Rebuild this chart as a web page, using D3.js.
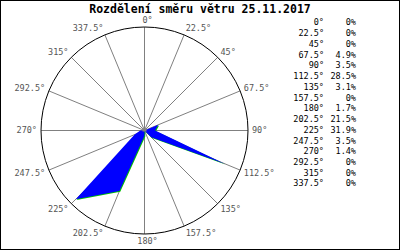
<!DOCTYPE html>
<html>
<head>
<meta charset="utf-8">
<script src="https://cdn.jsdelivr.net/npm/d3@7/dist/d3.min.js"></script>
<style>
  body { margin: 0; background: #fff; }
  svg { display: block; }
</style>
</head>
<body>
<svg id="chart"></svg>
<script>
// wind direction (degrees) and share of time (%)
const directions = [0, 22.5, 45, 67.5, 90, 112.5, 135, 157.5, 180, 202.5, 225, 247.5, 270, 292.5, 315, 337.5];
const shares = [0, 0, 0, 4.9, 3.5, 28.5, 3.1, 0, 1.7, 21.5, 31.9, 3.5, 1.4, 0, 0, 0];
const title = "Rozdělení směru větru 25.11.2017";

const w = 400;
const h = 250;
const cx = 144.5;
const cy = 130.5;
const R = 103.5;
const mono = "'DejaVu Sans Mono', 'Liberation Mono', monospace";

const svg = d3.select("#chart").attr("width", w).attr("height", h);

svg.append("rect")
  .attr("x", 0.5).attr("y", 0.5)
  .attr("width", w - 1).attr("height", h - 1)
  .attr("fill", "#fff").attr("stroke", "#000");

svg.append("text")
  .attr("x", 200).attr("y", 13)
  .attr("text-anchor", "middle")
  .attr("font-family", mono)
  .attr("font-size", 11.5)
  .attr("font-weight", "bold")
  .text(title);

// radial scale: percent -> pixels
const rScale = d3.scaleLinear().domain([0, 34]).range([0, R]);
const rad = (d) => (d * Math.PI) / 180;

const g = svg.append("g").attr("transform", `translate(${cx},${cy})`);

// spokes
g.selectAll("line.spoke")
  .data(directions)
  .enter()
  .append("line")
  .attr("class", "spoke")
  .attr("x1", 0).attr("y1", 0)
  .attr("x2", (d) => R * Math.sin(rad(d)))
  .attr("y2", (d) => -R * Math.cos(rad(d)))
  .attr("stroke", "#808080")
  .attr("stroke-width", 1);

g.append("circle")
  .attr("r", R)
  .attr("fill", "none")
  .attr("stroke", "#000")
  .attr("stroke-width", 1);

// direction labels
g.selectAll("text.dir")
  .data(directions)
  .enter()
  .append("text")
  .attr("class", "dir")
  .attr("x", (d) => {
    const s = Math.sin(rad(d));
    if (Math.abs(s) < 0.1) return 3;
    return (R + 1) * s + 3 * s;
  })
  .attr("y", (d) => -(R + 1) * Math.cos(rad(d)) - 6 * Math.cos(rad(d)))
  .attr("dy", "0.35em")
  .attr("text-anchor", (d) => {
    const s = Math.sin(rad(d));
    return Math.abs(s) < 0.1 ? "middle" : s > 0 ? "start" : "end";
  })
  .attr("font-family", mono)
  .attr("font-size", 8.5)
  .attr("fill", "#555")
  .text((d) => d + "°");

// wind rose polygon
const pts = directions.map((d, i) => [
  rScale(shares[i]) * Math.sin(rad(d)),
  -rScale(shares[i]) * Math.cos(rad(d)),
]);
const line = d3.line().curve(d3.curveLinearClosed);

g.append("path")
  .attr("d", line(pts))
  .attr("transform", "translate(0.8,0.8)")
  .attr("fill", "#00c000");

g.append("path")
  .attr("d", line(pts))
  .attr("fill", "#0000ff");

g.append("rect")
  .attr("x", -2).attr("y", -2)
  .attr("width", 4).attr("height", 3)
  .attr("fill", "#808080");

// legend table
const legend = svg.append("g").attr("font-family", mono).attr("font-size", 8.5);
const rowY = d3.scaleLinear().domain([0, directions.length - 1]).range([22.5, 183.5]);

legend.selectAll("text.ang")
  .data(directions)
  .enter()
  .append("text")
  .attr("class", "ang")
  .attr("x", 324)
  .attr("y", (d, i) => rowY(i))
  .attr("dy", "0.35em")
  .attr("text-anchor", "end")
  .text((d) => d + "°");

legend.selectAll("text.pct")
  .data(shares)
  .enter()
  .append("text")
  .attr("class", "pct")
  .attr("x", 356)
  .attr("y", (d, i) => rowY(i))
  .attr("dy", "0.35em")
  .attr("text-anchor", "end")
  .text((d) => d + "%");
</script>
</body>
</html>
